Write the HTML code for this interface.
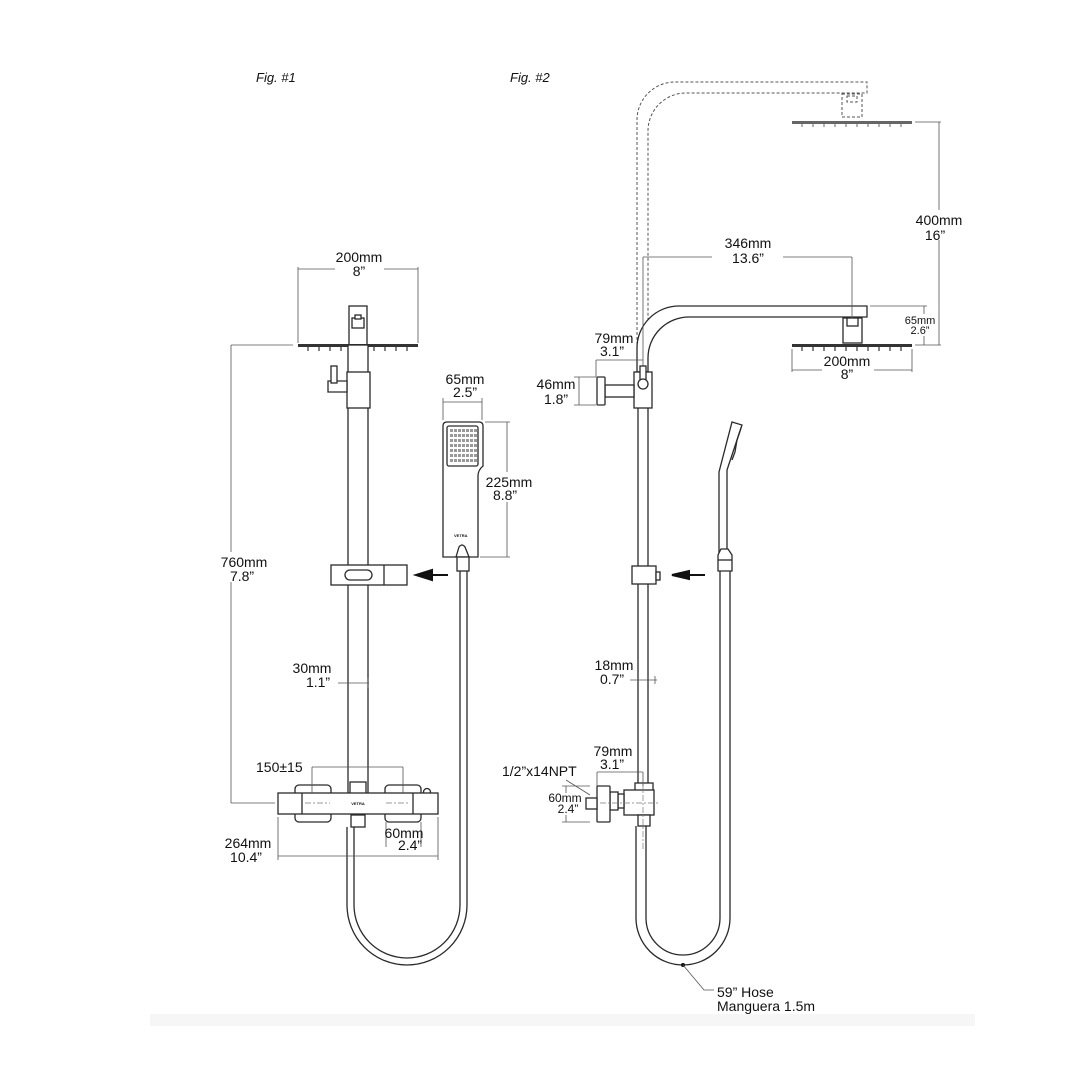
<!DOCTYPE html>
<html><head><meta charset="utf-8"><style>
html,body{margin:0;padding:0;background:#fff}
svg{display:block}
text{font-family:"Liberation Sans",sans-serif;fill:#111}
.d{font-size:14px;text-anchor:middle}
.s{font-size:11px;text-anchor:middle}
.p{fill:#fff;stroke:#2a2a2a;stroke-width:1.3}
.n{fill:none;stroke:#2a2a2a;stroke-width:1.3}
.m{fill:none;stroke:#555;stroke-width:0.8}
.g{fill:none;stroke:#555;stroke-width:1;stroke-dasharray:3 2}
.c{fill:none;stroke:#777;stroke-width:0.7;stroke-dasharray:6 2 2 2}
</style></head><body>
<svg width="1081" height="1081" viewBox="0 0 1081 1081">
<rect width="1081" height="1081" fill="#fff"/>
<rect x="150" y="1014" width="825" height="12" fill="#f6f6f6"/>
<text x="256" y="82" font-size="13" font-style="italic">Fig. #1</text>
<text x="510" y="82" font-size="13" font-style="italic">Fig. #2</text>

<!-- ===== FIG 1 ===== -->
<path class="m" d="M298 267V343M418 267V343M298 269H335M384 269H418"/>
<text class="d" x="359" y="262">200mm</text><text class="d" x="359" y="276">8”</text>
<rect class="p" x="349" y="306" width="18" height="39"/>
<rect class="p" x="352" y="318" width="12" height="10"/>
<rect class="p" x="355" y="315" width="6" height="4"/>
<path d="M298 344H418V347H298Z" fill="#333"/>
<g stroke="#333" stroke-width="1.2">
<path d="M308 347v4M319 347v4M330 347v4M341 347v4M352 347v4M363 347v4M374 347v4M385 347v4M396 347v4M407 347v4"/></g>
<rect class="p" x="348" y="345" width="20" height="450"/>
<rect class="p" x="347" y="372" width="23" height="36"/>
<path class="p" d="M328 381H347V392H328Z"/>
<rect class="p" x="331" y="366" width="6" height="17"/>
<rect class="p" x="331" y="565" width="76" height="20"/>
<path class="n" d="M384 565V585"/>
<rect class="p" x="345" y="570" width="27" height="10" rx="5"/>
<path d="M448 575H432V580L416 575L432 570V575Z" fill="#111" stroke="#111" stroke-width="2"/>
<path class="m" d="M231 345V803M231 345H293M231 803H275"/>
<rect x="222" y="552" width="44" height="30" fill="#fff"/>
<text class="d" x="244" y="567">760mm</text><text class="d" x="242" y="581">7.8”</text>
<path class="p" d="M447 422H479Q483 422 483 426V466Q478 470 478 476V557H443V426Q443 422 447 422Z"/>
<rect class="n" x="447" y="426" width="31" height="40" rx="2"/>
<g fill="#999">
<rect x="450" y="429" width="3" height="3"/><rect x="454" y="429" width="3" height="3"/><rect x="458" y="429" width="3" height="3"/><rect x="462" y="429" width="3" height="3"/><rect x="466" y="429" width="3" height="3"/><rect x="470" y="429" width="3" height="3"/><rect x="474" y="429" width="3" height="3"/>
<rect x="450" y="434" width="3" height="3"/><rect x="454" y="434" width="3" height="3"/><rect x="458" y="434" width="3" height="3"/><rect x="462" y="434" width="3" height="3"/><rect x="466" y="434" width="3" height="3"/><rect x="470" y="434" width="3" height="3"/><rect x="474" y="434" width="3" height="3"/>
<rect x="450" y="439" width="3" height="3"/><rect x="454" y="439" width="3" height="3"/><rect x="458" y="439" width="3" height="3"/><rect x="462" y="439" width="3" height="3"/><rect x="466" y="439" width="3" height="3"/><rect x="470" y="439" width="3" height="3"/><rect x="474" y="439" width="3" height="3"/>
<rect x="450" y="444" width="3" height="3"/><rect x="454" y="444" width="3" height="3"/><rect x="458" y="444" width="3" height="3"/><rect x="462" y="444" width="3" height="3"/><rect x="466" y="444" width="3" height="3"/><rect x="470" y="444" width="3" height="3"/><rect x="474" y="444" width="3" height="3"/>
<rect x="450" y="449" width="3" height="3"/><rect x="454" y="449" width="3" height="3"/><rect x="458" y="449" width="3" height="3"/><rect x="462" y="449" width="3" height="3"/><rect x="466" y="449" width="3" height="3"/><rect x="470" y="449" width="3" height="3"/><rect x="474" y="449" width="3" height="3"/>
<rect x="450" y="454" width="3" height="3"/><rect x="454" y="454" width="3" height="3"/><rect x="458" y="454" width="3" height="3"/><rect x="462" y="454" width="3" height="3"/><rect x="466" y="454" width="3" height="3"/><rect x="470" y="454" width="3" height="3"/><rect x="474" y="454" width="3" height="3"/>
<rect x="450" y="459" width="3" height="3"/><rect x="454" y="459" width="3" height="3"/><rect x="458" y="459" width="3" height="3"/><rect x="462" y="459" width="3" height="3"/><rect x="466" y="459" width="3" height="3"/><rect x="470" y="459" width="3" height="3"/><rect x="474" y="459" width="3" height="3"/>
</g>
<text x="454" y="537" font-size="4" font-weight="bold">VETRA</text>
<path class="p" d="M456 557L459 547Q462 543 465 547L469 557Z"/>
<rect class="p" x="457" y="557" width="12" height="14"/>
<path class="m" d="M443 398V420M482 398V420M443 402H482M485 422H510M480 557H510M507 422V557"/>
<text class="d" x="465" y="384">65mm</text><text class="d" x="465" y="397">2.5”</text>
<rect x="484" y="472" width="52" height="30" fill="#fff"/>
<text class="d" x="509" y="487">225mm</text><text class="d" x="505" y="500">8.8”</text>
<path class="n" d="M460 571V905A53 53 0 0 1 354 905V827"/>
<path class="n" d="M467 571V905A60 60 0 0 1 347 905V827"/>
<path class="m" d="M338 683H369M368 678V688"/>
<text class="d" x="312" y="673">30mm</text><text class="d" x="318" y="687">1.1”</text>
<rect class="p" x="350" y="782" width="16" height="12"/>
<rect class="p" x="295" y="785" width="36" height="37" rx="4"/>
<rect class="p" x="385" y="785" width="36" height="37" rx="4"/>
<circle class="p" cx="427" cy="792" r="3.5"/>
<rect class="p" x="278" y="793" width="160" height="21"/>
<path class="n" d="M302 793V814M413 793V814"/>
<path class="c" d="M305 803H330M386 803H410"/>
<text x="358" y="805" font-size="4" font-weight="bold" text-anchor="middle">VETRA</text>
<rect class="p" x="351" y="815" width="14" height="12"/>
<path class="m" d="M312 767H403M312 767V793M403 767V793"/>
<text x="256" y="772" font-size="14">150±15</text>
<path class="m" d="M278 817V860M438 817V860M278 856H438M386 822V847M421 822V847"/>
<text class="d" x="248" y="848">264mm</text><text class="d" x="246" y="862">10.4”</text>
<text class="d" x="404" y="838" font-size="13">60mm</text><text class="d" x="410" y="850" font-size="13">2.4”</text>

<!-- ===== FIG 2 ===== -->
<path class="g" d="M637 350V120A38 38 0 0 1 675 82H867V93H686A38 38 0 0 0 648 131V350"/>
<rect class="g" x="842" y="94" width="20" height="23"/>
<rect class="g" x="847" y="96" width="10" height="6"/>
<path d="M792 121H912V124H792Z" fill="#666"/>
<g stroke="#666" stroke-width="1"><path d="M802 124v3M813 124v3M824 124v3M835 124v3M846 124v3M857 124v3M868 124v3M879 124v3M890 124v3M901 124v3"/></g>
<path class="p" d="M637 372V348A42 42 0 0 1 679 306H867V317H689A41 41 0 0 0 648 358V372Z"/>
<rect class="p" x="843" y="318" width="19" height="25"/>
<rect class="p" x="847" y="318" width="11" height="8"/>
<path d="M792 344H912V347H792Z" fill="#333"/>
<g stroke="#333" stroke-width="1.2"><path d="M802 347v4M813 347v4M824 347v4M835 347v4M846 347v4M857 347v4M868 347v4M879 347v4M890 347v4M901 347v4"/></g>
<path class="m" d="M643 257V392M852 257V318M643 257H712M783 257H852"/>
<text class="d" x="748" y="248">346mm</text><text class="d" x="748" y="263">13.6”</text>
<path class="m" d="M915 122H941M915 345H941M939 122V345M870 306H927M924 306V345"/>
<rect x="912" y="210" width="52" height="30" fill="#fff"/>
<text class="d" x="939" y="225">400mm</text><text class="d" x="935" y="240">16”</text>
<rect x="904" y="314" width="34" height="22" fill="#fff"/>
<text class="s" x="920" y="324">65mm</text><text class="s" x="920" y="334">2.6”</text>
<path class="m" d="M792 349V372M912 349V372M792 370H912"/>
<rect x="822" y="353" width="52" height="28" fill="#fff"/>
<text class="d" x="847" y="366">200mm</text><text class="d" x="847" y="379">8”</text>
<rect class="p" x="638" y="372" width="10" height="412"/>
<rect class="p" x="634" y="372" width="18" height="36"/>
<rect class="p" x="640" y="366" width="6" height="18"/>
<circle class="p" cx="643" cy="384" r="5"/>
<rect class="p" x="605" y="385" width="29" height="12"/>
<rect class="p" x="597" y="377" width="8" height="28" rx="1"/>
<path class="m" d="M596 360H643M596 360V377M579 377V405M574 377H596M574 405H596"/>
<text class="d" x="614" y="343">79mm</text><text class="d" x="612" y="356">3.1”</text>
<text class="d" x="556" y="389">46mm</text><text class="d" x="556" y="404">1.8”</text>
<rect class="p" x="632" y="566" width="24" height="18"/>
<rect class="p" x="656" y="572" width="4" height="8"/>
<path d="M705 575H689V579L672 575L689 571V575Z" fill="#111" stroke="#111" stroke-width="2"/>
<path class="p" d="M732 422L742 425L727 470V553H719V472Z"/>
<path class="n" d="M741 428L737 440L735 452L732 460"/>
<path class="p" d="M718 555L721 549H728L732 555V571H718Z"/>
<path class="n" d="M718 560H732"/>
<path class="m" d="M630 680H657M655 676V684"/>
<text class="d" x="614" y="670">18mm</text><text class="d" x="612" y="684">0.7”</text>
<path class="n" d="M720 571V918A37 37 0 0 1 646 918V826"/>
<path class="n" d="M730 571V918A47 47 0 0 1 636 918V826"/>
<circle cx="683" cy="965" r="2" fill="#111"/>
<path class="m" d="M683 965L704 990H714"/>
<text x="717" y="997" font-size="14">59” Hose</text>
<text x="717" y="1011" font-size="14">Manguera 1.5m</text>
<rect class="p" x="635" y="783" width="18" height="9"/>
<rect class="p" x="624" y="790" width="30" height="25"/>
<rect class="p" x="638" y="815" width="12" height="11"/>
<rect class="p" x="618" y="794" width="6" height="14"/>
<rect class="p" x="610" y="792" width="8" height="18"/>
<rect class="p" x="597" y="786" width="13" height="36" rx="1"/>
<rect class="p" x="586" y="798" width="11" height="11"/>
<path class="c" d="M600 803H660M643 783V850"/>
<path class="m" d="M597 772H643M597 772V786M643 772V786M566 786V822M562 786H590M562 822H590M566 780L590 795"/>
<text class="d" x="613" y="756">79mm</text><text class="d" x="612" y="769">3.1”</text>
<text x="502" y="776" font-size="14">1/2”x14NPT</text>
<rect x="546" y="793" width="38" height="22" fill="#fff"/>
<text x="565" y="802" font-size="12" text-anchor="middle">60mm</text>
<text x="568" y="813" font-size="12" text-anchor="middle">2.4”</text>
</svg>
</body></html>
